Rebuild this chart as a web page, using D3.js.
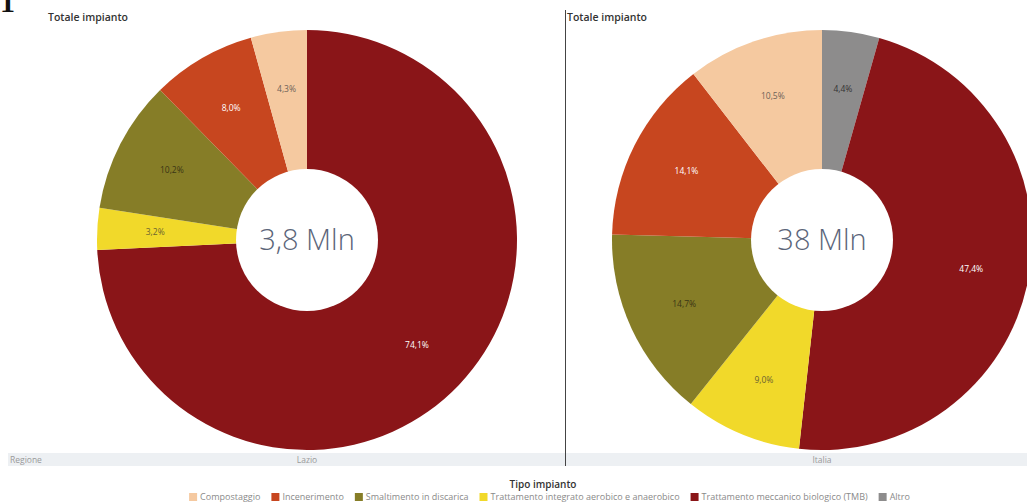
<!DOCTYPE html>
<html>
<head>
<meta charset="utf-8">
<script src="https://cdn.jsdelivr.net/npm/d3@7"></script>
<style>
  html, body { margin: 0; padding: 0; background: #ffffff; }
  svg { display: block; font-family: "Open Sans", "Noto Sans", sans-serif; }
</style>
</head>
<body>
<svg id="chart" width="1027" height="504"></svg>
<script>
// Plant types, in legend order
const categories = [
  "Compostaggio",
  "Incenerimento",
  "Smaltimento in discarica",
  "Trattamento integrato aerobico e anaerobico",
  "Trattamento meccanico biologico (TMB)",
  "Altro"
];
const colors = ["#f5c9a0", "#c7461f", "#867d27", "#f1d92a", "#8a1518", "#8d8c8c"];
const labelInk = ["#6d6258", "#ffffff", "#3a3515", "#6b6330", "#ffffff", "#333333"];

// Share of total plant capacity (%)
const lazioValues  = [4.3, 8.0, 10.2, 3.2, 74.1, 0];
const italiaValues = [10.5, 14.1, 14.7, 9.0, 47.4, 4.4];

const regions = ["Lazio", "Italia"];
const totals = ["3,8 Mln", "38 Mln"];
const seriesList = [lazioValues, italiaValues];

const svg = d3.select("#chart");
const W = 1027;

const outerR = 210, innerR = 71, labelR = 152;
const centersX = [307, 822];
const centerY = 240;

const fmt = v => d3.format(".1f")(v).replace(".", ",") + "%";

// Figure number, partly cut at the top edge
svg.append("text").attr("x", 0).attr("y", 12)
  .attr("font-family", "'Liberation Serif', serif").attr("font-weight", 700)
  .attr("font-size", 30).attr("fill", "#111").text("1");

// Region band under the pies
svg.append("rect").attr("x", 8).attr("y", 453).attr("width", W - 8).attr("height", 13)
  .attr("fill", "#edf0f3");
svg.append("text").attr("x", 10).attr("y", 463).attr("font-size", 8.5)
  .attr("fill", "#9a9a9a").text("Regione");

const pie = d3.pie().sort(null).value(d => d.value);
const arc = d3.arc().innerRadius(0).outerRadius(outerR);

seriesList.forEach((vals, k) => {
  // slices run clockwise from the top in reverse legend order
  const data = categories.map((c, i) => ({ cat: c, idx: i, value: vals[i] }))
    .filter(d => d.value > 0)
    .reverse();
  const g = svg.append("g").attr("transform", `translate(${centersX[k]},${centerY})`);
  const arcs = pie(data);
  g.selectAll("path.slice").data(arcs).join("path")
    .attr("class", "slice")
    .attr("d", arc)
    .attr("fill", d => colors[d.data.idx]);

  g.selectAll("text.pct").data(arcs).join("text")
    .attr("class", "pct")
    .attr("transform", d => {
      const a = (d.startAngle + d.endAngle) / 2;
      return `translate(${Math.sin(a) * labelR},${-Math.cos(a) * labelR})`;
    })
    .attr("text-anchor", "middle").attr("dy", "0.35em")
    .attr("font-size", 8.5)
    .attr("fill", d => labelInk[d.data.idx])
    .text(d => fmt(d.data.value));

  // centre hole with total
  g.append("circle").attr("r", innerR).attr("fill", "#ffffff");
  g.append("text").attr("text-anchor", "middle").attr("dy", "0.35em")
    .attr("font-size", 29).attr("font-weight", 300).attr("fill", "#5b6579")
    .text(totals[k]);

  svg.append("text").attr("x", centersX[k]).attr("y", 463)
    .attr("text-anchor", "middle").attr("font-size", 8.5).attr("fill", "#9a9a9a")
    .text(regions[k]);
});

// Panel titles
svg.append("text").attr("x", 48).attr("y", 21).attr("font-size", 10.5)
  .attr("font-weight", 600).attr("fill", "#333").text("Totale impianto");
svg.append("text").attr("x", 567).attr("y", 21).attr("font-size", 10.5)
  .attr("font-weight", 600).attr("fill", "#333").text("Totale impianto");

// Panel divider
svg.append("line").attr("x1", 565.5).attr("x2", 565.5).attr("y1", 10).attr("y2", 466)
  .attr("stroke", "#444").attr("stroke-width", 1);

// Legend
svg.append("text").attr("x", 543).attr("y", 488).attr("text-anchor", "middle")
  .attr("font-size", 10).attr("font-weight", 600).attr("fill", "#333").text("Tipo impianto");

const legend = svg.append("g");
let x = 0;
categories.forEach((c, i) => {
  const it = legend.append("g");
  it.append("rect").attr("x", 0).attr("y", -7).attr("width", 8).attr("height", 8)
    .attr("fill", colors[i]);
  const t = it.append("text").attr("x", 11).attr("y", 0).attr("font-size", 9)
    .attr("fill", "#8a8a8a").text(c);
  const w = t.node().getComputedTextLength();
  it.attr("transform", `translate(${x},0)`);
  x += 11 + w + 11;
});
const legendW = x - 11;
legend.attr("transform", `translate(${(191 + 908) / 2 - legendW / 2},500)`);
</script>
</body>
</html>
